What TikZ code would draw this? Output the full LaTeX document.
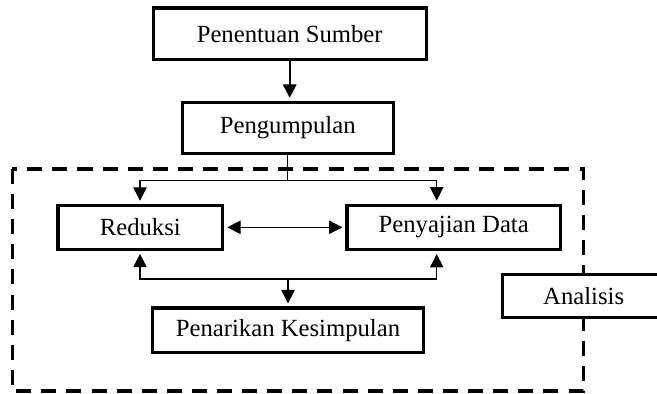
\documentclass[tikz,border=0pt]{standalone}
\usepackage{fontspec}
\setmainfont{Liberation Serif}
\usetikzlibrary{arrows.meta}

\begin{document}
\begin{tikzpicture}[
    x=0.486pt,y=-0.486pt,
    box/.style={draw,black,fill=white,line width=1.5pt,inner sep=0pt,font=\fontsize{12}{14}\selectfont},
    link/.style={draw,black,line width=0.55pt},
    tip/.style={-{Triangle[length=6.5pt,width=6.5pt]},shorten >=1.5pt},
    dua/.style={{Triangle[length=6.5pt,width=6.5pt]}-{Triangle[length=6.5pt,width=6.5pt]},shorten >=1.5pt,shorten <=1.5pt}
    ]
    \useasboundingbox (0, 0) rectangle (657, 393);
    \clip (0, 0) rectangle (657, 393);
    % batas analisis
    \draw[black, line width=1.6pt, dash pattern=on 7.3pt off 4.9pt] (12.3, 169) rectangle (583.5, 391);
    \node[box,minimum width=132.8pt,minimum height=25.1pt] (sumber) at (289.7, 33.8) {Penentuan Sumber};
    \node[box,minimum width=102.4pt,minimum height=24.9pt] (kumpul) at (287.7, 128) {Pengumpulan};
    \node[box,minimum width=80pt,minimum height=21.3pt] (reduksi) at (140.3, 227.3) {Reduksi};
    \node[box,minimum width=103.7pt,minimum height=21.5pt] (sajian) at (453.7, 227.3) {Penyajian Data};
    \node[box,minimum width=132pt,minimum height=21.7pt] (tarik) at (288, 330.3) {Penarikan Kesimpulan};
    \node[box,minimum width=78.9pt,minimum height=21.3pt] (analisis) at (583.7, 296) {Analisis};
    \coordinate (kiri) at (140, 180.7);
    \coordinate (kanan) at (436.7, 180.7);
    \coordinate (bkiri) at (140, 279);
    \coordinate (bkanan) at (436.7, 279);
    \draw[black, line width=1.1pt, tip] (sumber.south) -- (sumber.south |- kumpul.north);
    \draw[link] (kumpul.south) -- (kumpul.south |- kiri);
    \draw[link, dua] (reduksi.north -| kiri) |- (kanan) -- (sajian.north -| kanan);
    \draw[link, dua] (reduksi.east) -- (sajian.west);
    \draw[link, dua] (reduksi.south -| bkiri) |- (bkanan) -- (sajian.south -| bkanan);
    \draw[link, tip] (tarik.north |- bkiri) -- (tarik.north);
\end{tikzpicture}
\end{document}
